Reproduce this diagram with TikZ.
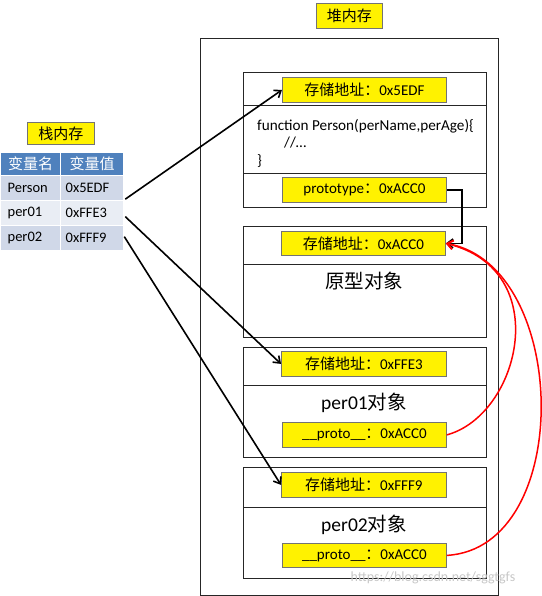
\documentclass[tikz,border=0pt]{standalone}
\usepackage{fontspec}
\setmainfont{Carlito}
\newfontfamily\cjk{Noto Sans CJK SC}
\usetikzlibrary{arrows.meta,calc}
\definecolor{hdrblue}{HTML}{4F81BD}
\definecolor{rowdark}{HTML}{D0D8E8}
\definecolor{rowlight}{HTML}{E9EDF4}
\tikzset{
  yb/.style={draw=black!55, fill=yellow, line width=0.8pt, inner sep=0pt, anchor=north west,
    font=\fontsize{15}{17}\selectfont},
  sect/.style={draw=black!85, line width=1.2pt, inner sep=0pt, anchor=north west, minimum width=243pt},
  cellbox/.style={draw=white, line width=1.3pt, inner sep=0pt, anchor=north west, minimum height=25pt,
    font=\fontsize{14.5}{16}\selectfont},
  hdr/.style={cellbox, fill=hdrblue, text=white, minimum height=23pt, font=\cjk\fontsize{15}{16}\selectfont},
  blackarr/.style={line width=1.6pt, -{Straight Barb[length=6pt,width=9pt]}},
  redarr/.style={draw=red, line width=1.5pt, -{Straight Barb[length=6pt,width=9pt]}},
  big/.style={font=\fontsize{19.5}{22}\selectfont},
}
\begin{document}
\begin{tikzpicture}[x=1pt,y=-1pt]
\useasboundingbox (0,0) rectangle (541,596);

% titles
\node[yb, minimum width=66pt, minimum height=25pt, font=\cjk\fontsize{15}{16}\selectfont] (heaptitle) at (316,3) {堆内存};
\node[yb, minimum width=67pt, minimum height=22pt, font=\cjk\fontsize{15}{16}\selectfont] (stacktitle) at (27,122) {栈内存};

% heap outer
\node[draw=black!85, line width=1.2pt, inner sep=0pt, anchor=north west, minimum width=298pt, minimum height=557pt] (heap) at (200,38) {};

% stack table
\node[hdr, minimum width=60pt] (h1) at (0,152) {变量名};
\node[hdr, minimum width=63pt] (h2) at (60,152) {变量值};
\node[cellbox, fill=rowdark, minimum width=60pt, text width=46pt, align=left] (n1) at (0,175) {Person};
\node[cellbox, fill=rowdark, minimum width=63pt, text width=53pt, align=left] (v1) at (60,175) {0x5EDF};
\node[cellbox, fill=rowlight, minimum width=60pt, text width=46pt, align=left] (n2) at (0,200) {per01};
\node[cellbox, fill=rowlight, minimum width=63pt, text width=53pt, align=left] (v2) at (60,200) {0xFFE3};
\node[cellbox, fill=rowdark, minimum width=60pt, text width=46pt, align=left] (n3) at (0,225) {per02};
\node[cellbox, fill=rowdark, minimum width=63pt, text width=53pt, align=left] (v3) at (60,225) {0xFFF9};

% box 1: Person function
\node[sect, minimum height=33pt] (b1a) at (243,72) {};
\node[sect, minimum height=68pt] (b1b) at (243,105) {};
\node[sect, minimum height=34pt] (b1c) at (243,173) {};
\node[yb, minimum width=164pt, minimum height=25pt] (a1) at (282,77) {{\cjk 存储地址：}0x5EDF};
\node[anchor=north west, inner sep=0pt, align=left, font=\fontsize{15.2}{17.5}\selectfont] (fn) at (257,119)
  {function Person(perName,perAge)\{\\\hspace*{27pt}//…\\\}};
\node[yb, minimum width=164pt, minimum height=25pt] (pt) at (282,177) {prototype{\cjk ：}0xACC0};

% box 2: prototype object
\node[sect, minimum height=38pt] (b2a) at (243,226) {};
\node[sect, minimum height=73pt] (b2b) at (243,264) {};
\node[yb, minimum width=164pt, minimum height=24pt] (a2) at (281,231) {{\cjk 存储地址：}0xACC0};
\node[font=\cjk\fontsize{19.5}{22}\selectfont] (t2) at (364,281) {原型对象};

% box 3: per01
\node[sect, minimum height=38pt] (b3a) at (243,347) {};
\node[sect, minimum height=72pt] (b3b) at (243,385) {};
\node[yb, minimum width=165pt, minimum height=25pt] (a3) at (281,351) {{\cjk 存储地址：}0xFFE3};
\node[big] (t3) at (364,403) {per01{\cjk 对象}};
\node[yb, minimum width=164pt, minimum height=25pt] (p1) at (282,422) {\_\_proto\_\_{\cjk ：}0xACC0};

% box 4: per02
\node[sect, minimum height=40pt] (b4a) at (243,467) {};
\node[sect, minimum height=71pt] (b4b) at (243,507) {};
\node[yb, minimum width=165pt, minimum height=25pt] (a4) at (281,472) {{\cjk 存储地址：}0xFFF9};
\node[big] (t4) at (364,525) {per02{\cjk 对象}};
\node[yb, minimum width=164pt, minimum height=24pt] (p2) at (282,543) {\_\_proto\_\_{\cjk ：}0xACC0};

% stack -> heap arrows
\draw[blackarr] ([xshift=1pt,yshift=-11pt]v1.east) -- (a1.west);
\draw[blackarr] ([xshift=1pt,yshift=-3.5pt]v2.east) -- (a3.west);
\draw[blackarr] ([xshift=0pt,yshift=1.5pt]v3.east) -- (a4.west);

% prototype connector
\draw[line width=1.5pt, -{Straight Barb[length=6pt,width=9pt]}] (pt.east) -| ([xshift=16pt]a2.east) -- (a2.east);

% __proto__ arrows
\draw[redarr] (p1.east) .. controls (520,415) and (555,270) .. (a2.east);
\draw[redarr] (p2.east) .. controls (575,548) and (570,265) .. (a2.east);

% watermark
\node[text=black!22, font=\fontsize{14}{16}\selectfont] (wm) at (433,578) {https://blog.csdn.net/sggtgfs};
\end{tikzpicture}
\end{document}
